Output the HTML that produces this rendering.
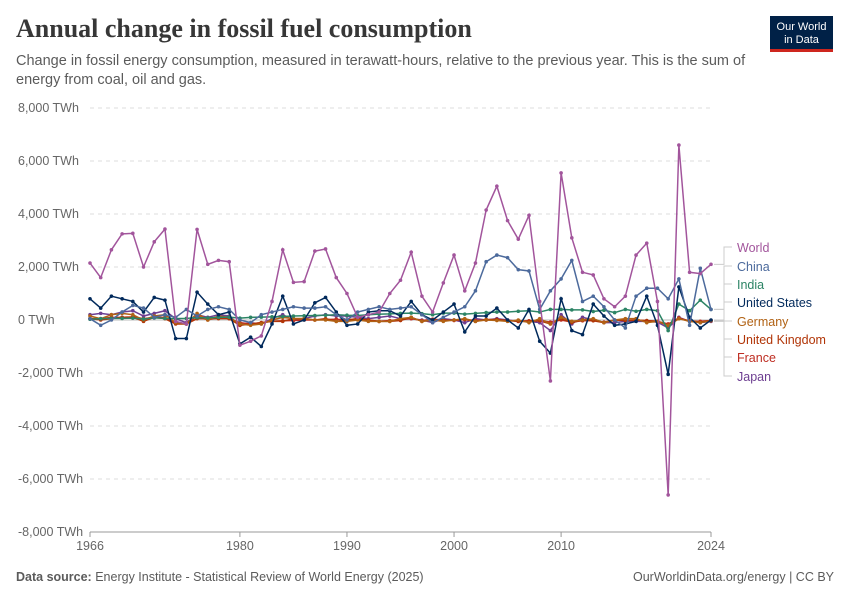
<!DOCTYPE html>
<html><head><meta charset="utf-8">
<style>
body{margin:0;background:#fff;font-family:"Liberation Sans",sans-serif;}
#wrap{position:relative;width:850px;height:600px;overflow:hidden;}
h1{position:absolute;left:16px;top:14px;margin:0;font-family:"Liberation Serif",serif;font-size:26px;font-weight:bold;color:#373737;}
.sub{position:absolute;left:16px;top:52px;width:760px;font-size:14.5px;line-height:19px;color:#5b5b5b;}
.logo{position:absolute;left:770px;top:16px;width:63px;height:36px;background:#002147;color:#fff;font-size:11px;text-align:center;line-height:13px;padding-top:5px;box-sizing:border-box;border-bottom:3px solid #ce261e;}
.foot{position:absolute;top:570px;font-size:12.5px;color:#5b5b5b;}
</style></head><body>
<div id="wrap">
<h1>Annual change in fossil fuel consumption</h1>
<div class="sub">Change in fossil energy consumption, measured in terawatt-hours, relative to the previous year. This is the sum of energy from coal, oil and gas.</div>
<div class="logo">Our World<br>in Data</div>
<svg id="chart" width="850" height="600" style="position:absolute;left:0;top:0"></svg>
<div class="foot" style="left:16px"><b>Data source:</b> Energy Institute - Statistical Review of World Energy (2025)</div>
<div class="foot" style="right:16px">OurWorldinData.org/energy | CC BY</div>
</div>
<script>
const years=[];for(let y=1966;y<=2024;y++)years.push(y);
const yTicks=[-8000,-6000,-4000,-2000,0,2000,4000,6000,8000];
const xTicks=[1966,1980,1990,2000,2010,2024];
const world=[2150,1600,2650,3250,3270,2000,2950,3430,-50,-150,3420,2100,2250,2200,-950,-800,-600,700,2650,1420,1450,2600,2680,1600,1000,100,200,300,1000,1500,2560,900,300,1400,2450,1100,2150,4150,5050,3750,3050,3950,700,-2300,5550,3100,1800,1700,800,500,900,2450,2900,700,-6600,6600,1800,1750,2100];
const china=[50,-200,0,300,550,450,100,200,100,400,150,400,500,400,0,-100,200,300,400,500,450,450,500,200,0,300,400,500,400,450,500,200,-100,100,300,500,1100,2200,2450,2350,1900,1850,400,1100,1550,2250,700,900,500,0,-300,900,1200,1200,800,1550,-200,1950,400];
const us=[800,450,900,800,700,300,850,750,-700,-700,1050,600,200,300,-900,-650,-1000,-150,900,-150,0,650,850,300,-200,-150,300,350,350,150,700,200,0,300,600,-450,150,150,450,0,-300,400,-800,-1250,800,-400,-550,600,150,-200,-150,-50,900,-200,-2050,1250,100,-300,0];
const india=[30,50,60,60,70,40,80,60,50,60,90,80,100,110,70,100,110,120,130,150,160,170,180,200,180,170,200,220,230,250,260,240,200,260,260,220,250,280,300,300,330,350,300,400,400,380,380,320,370,280,400,330,400,350,-400,600,350,750,400];
const germany=[150,50,200,250,200,0,150,200,-100,-150,250,0,150,100,-150,-200,-150,0,100,50,50,0,0,-50,-50,0,-50,-50,-50,50,100,-50,0,-50,0,50,-50,0,-20,-50,0,-100,50,-150,100,-50,0,50,-100,0,50,50,-100,-50,-200,50,-50,-100,-30];
const uk=[50,0,50,100,100,-50,100,50,-150,-150,50,50,50,50,-200,-150,-100,-50,-50,50,50,0,50,-50,0,50,0,-50,-50,-20,100,-50,0,-20,0,20,-50,20,20,-20,-50,-50,-30,-150,50,-100,0,-30,-100,0,-20,-10,-20,-50,-200,50,-30,-80,-20];
const france=[50,50,100,100,120,50,100,100,-100,-150,150,0,100,50,-100,-150,-100,-50,-30,-20,0,0,20,30,0,50,0,-50,-20,20,50,-20,30,0,-20,20,-20,0,0,-20,-40,-30,-20,-80,0,-80,-30,-20,-80,0,-20,0,-30,-50,-150,80,-50,-50,-20];
const japan=[200,250,200,300,350,150,250,350,50,-100,200,100,200,150,-200,-100,-150,50,200,0,50,150,200,150,150,100,50,100,150,50,50,0,-100,50,0,-100,50,0,50,0,-50,-50,-100,-400,200,-150,100,0,-100,-100,-50,-50,-50,-80,-300,100,-50,-100,-50];
const seriesNames=["World","China","India","United States","Germany","United Kingdom","France","Japan"];
const seriesData=[world,china,india,us,germany,uk,france,japan];
const colors=["#a2559c","#4c6a9c","#2c8465","#00295b","#b16214","#b13507","#be2d22","#6d3e91"];
const ns="http://www.w3.org/2000/svg",svg=document.getElementById('chart');
const x0=90,x1=711,yTop=108,yBot=532;
const xs=y=>x0+(y-1966)*(x1-x0)/(2024-1966);
const ys=v=>yBot-(v+8000)*(yBot-yTop)/16000;
function mk(t,a){const e=document.createElementNS(ns,t);for(const k in a)e.setAttribute(k,a[k]);svg.appendChild(e);return e;}
yTicks.forEach(v=>{
  const l=mk('line',{x1:x0,x2:x1,y1:ys(v),y2:ys(v),stroke:v===0?'#bbb':'#ddd','stroke-dasharray':v===0?'':'4,4'});
  
  
  const t=mk('text',{x:18,y:ys(v)+4,'font-size':12.5,fill:'#666'});
  t.textContent=(v<0?'-':'')+Math.abs(v).toLocaleString('en-US')+' TWh';
  
  
});
const ax=mk('line',{x1:x0,x2:x1,y1:yBot,y2:yBot,stroke:'#999'});


xTicks.forEach(y=>{
  const tk=mk('line',{x1:xs(y),x2:xs(y),y1:yBot,y2:yBot+5,stroke:'#999'});
  
  
  const t=mk('text',{x:xs(y),y:yBot+18,'font-size':12.5,fill:'#666','text-anchor':'middle'});
  t.textContent=y;
  
  
});
const order=[7,6,5,4,2,3,1,0];
order.forEach(i=>{
  const d=seriesData[i];
  const pts=d.map((v,j)=>xs(years[j])+','+ys(v)).join(' ');
  const pl=mk('polyline',{points:pts,fill:'none',stroke:colors[i],'stroke-width':1.5});
  
  
  d.forEach((v,j)=>{
    const c=mk('circle',{cx:xs(years[j]),cy:ys(v),r:1.8,fill:colors[i]});
    
    
  });
});
const labelY=[247,266,284,302,321,339,357,376];
seriesNames.forEach((n,i)=>{
  const endY=ys(seriesData[i][seriesData[i].length-1]);
  const c=mk('polyline',{points:`${x1+3},${endY} ${724},${endY} ${724},${labelY[i]} ${732},${labelY[i]}`,fill:'none',stroke:'#ccc','stroke-width':1});
  
  
  const t=mk('text',{x:737,y:labelY[i]+5,'font-size':12.5,fill:colors[i]});
  t.textContent=n;
  
  
});
</script>
</body></html>
